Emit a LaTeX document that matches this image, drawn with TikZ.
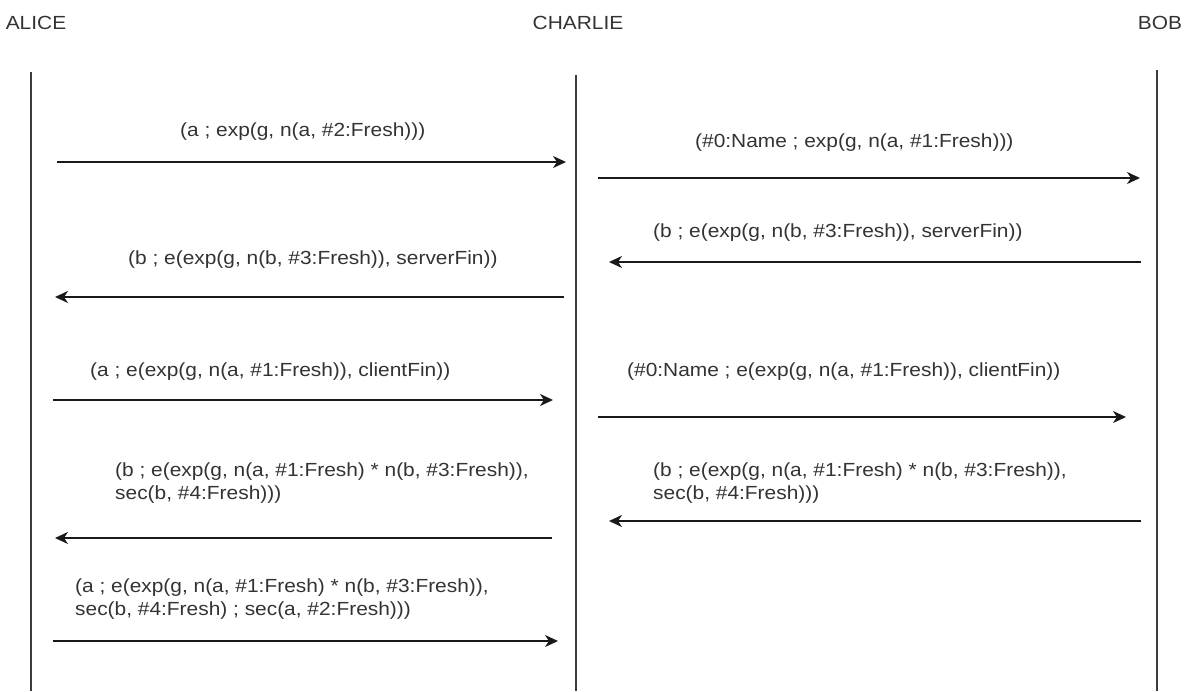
\documentclass[tikz,border=0pt]{standalone}
\usepackage{fontspec}
\setmainfont{Liberation Sans}[FakeStretch=1.1]
\usetikzlibrary{arrows.meta}
\definecolor{txt}{HTML}{333333}
\definecolor{lifec}{HTML}{3C3C3C}
\begin{document}
\begin{tikzpicture}[x=1pt,y=-1pt,
  lbl/.style={text=txt, font=\fontsize{19}{23}\selectfont, inner sep=0pt},
  msglbl/.style={lbl, anchor=west, align=left},
  life/.style={draw=lifec, line width=1.8pt},
  msg/.style={draw=black!90, line width=1.9pt, -{Stealth[length=13pt,width=12pt,inset=4pt]}}]
\useasboundingbox (0,0) rectangle (1189,691);
% participants
\node[lbl] (alice) at (36,23) {ALICE};
\node[lbl] (charlie) at (578,23) {CHARLIE};
\node[lbl] (bob) at (1160,23) {BOB};
% lifelines
\coordinate (aT) at (31,72);  \coordinate (aB) at (31,691);
\coordinate (cT) at (576,75); \coordinate (cB) at (576,691);
\coordinate (bT) at (1157,70); \coordinate (bB) at (1157,691);
\draw[life] (aT) -- (aB);
\draw[life] (cT) -- (cB);
\draw[life] (bT) -- (bB);
% message end points
\coordinate (m1s) at (57,162);   \coordinate (m1e) at (566,162);
\coordinate (m2s) at (598,178);  \coordinate (m2e) at (1140,178);
\coordinate (m3s) at (1141,262); \coordinate (m3e) at (609,262);
\coordinate (m4s) at (564,297);  \coordinate (m4e) at (55,297);
\coordinate (m5s) at (53,400);   \coordinate (m5e) at (553,400);
\coordinate (m6s) at (598,417);  \coordinate (m6e) at (1126,417);
\coordinate (m7s) at (1141,521); \coordinate (m7e) at (609,521);
\coordinate (m8s) at (552,538);  \coordinate (m8e) at (55,538);
\coordinate (m9s) at (53,641);   \coordinate (m9e) at (558,641);
\draw[msg] (m1s) -- (m1e);
\draw[msg] (m2s) -- (m2e);
\draw[msg] (m3s) -- (m3e);
\draw[msg] (m4s) -- (m4e);
\draw[msg] (m5s) -- (m5e);
\draw[msg] (m6s) -- (m6e);
\draw[msg] (m7s) -- (m7e);
\draw[msg] (m8s) -- (m8e);
\draw[msg] (m9s) -- (m9e);
% labels
\node[msglbl] (l1) at (180,132) {(a ; exp(g, n(a, \#2:Fresh)))};
\node[msglbl] (l2) at (695,143) {(\#0:Name ; exp(g, n(a, \#1:Fresh)))};
\node[msglbl] (l3) at (653,233) {(b ; e(exp(g, n(b, \#3:Fresh)), serverFin))};
\node[msglbl] (l4) at (128,260) {(b ; e(exp(g, n(b, \#3:Fresh)), serverFin))};
\node[msglbl] (l5) at (90,372) {(a ; e(exp(g, n(a, \#1:Fresh)), clientFin))};
\node[msglbl] (l6) at (627,372) {(\#0:Name ; e(exp(g, n(a, \#1:Fresh)), clientFin))};
\node[msglbl] (l7) at (653,483.5) {(b ; e(exp(g, n(a, \#1:Fresh) * n(b, \#3:Fresh)),\\sec(b, \#4:Fresh)))};
\node[msglbl] (l8) at (115,483.5) {(b ; e(exp(g, n(a, \#1:Fresh) * n(b, \#3:Fresh)),\\sec(b, \#4:Fresh)))};
\node[msglbl] (l9) at (75,599.5) {(a ; e(exp(g, n(a, \#1:Fresh) * n(b, \#3:Fresh)),\\sec(b, \#4:Fresh) ; sec(a, \#2:Fresh)))};
\end{tikzpicture}
\end{document}
